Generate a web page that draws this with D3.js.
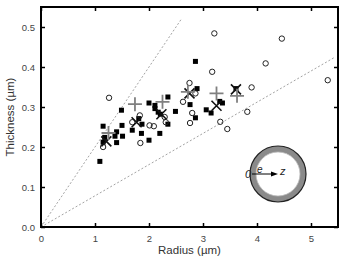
<!DOCTYPE html>
<html>
<head>
<meta charset="utf-8">
<script src="https://cdn.jsdelivr.net/npm/d3@7"></script>
<style>
  body { margin: 0; background: #fff; }
  svg { display: block; font-family: "Liberation Sans", Arial, sans-serif; }
</style>
</head>
<body>
<svg id="chart" width="340" height="257"></svg>
<script>
// data
const xTicks = [0, 1, 2, 3, 4, 5];
const yTicks = [0.0, 0.1, 0.2, 0.3, 0.4, 0.5];

const squareR = [1.09, 1.15, 1.15, 1.18, 1.37, 1.40, 1.40, 1.51, 1.50, 1.49, 1.69, 1.81, 1.87, 1.86, 2.00, 2.00, 2.11, 2.11, 2.17, 2.21, 2.20, 2.35, 2.35, 2.49, 2.86, 2.89, 2.76, 2.86, 3.06, 3.15, 3.31, 3.36, 3.61];
const squareT = [0.164, 0.252, 0.212, 0.224, 0.227, 0.238, 0.211, 0.227, 0.254, 0.292, 0.242, 0.271, 0.257, 0.234, 0.217, 0.310, 0.304, 0.296, 0.287, 0.282, 0.234, 0.325, 0.257, 0.289, 0.414, 0.346, 0.306, 0.273, 0.293, 0.285, 0.314, 0.310, 0.346];

const circleR = [1.26, 1.15, 1.69, 1.83, 2.01, 2.09, 1.84, 2.29, 2.31, 3.21, 3.17, 2.75, 2.86, 2.63, 2.80, 2.76, 3.32, 3.45, 3.82, 3.90, 4.16, 4.46, 5.31];
const circleT = [0.323, 0.200, 0.262, 0.279, 0.254, 0.252, 0.210, 0.275, 0.262, 0.484, 0.388, 0.360, 0.334, 0.313, 0.285, 0.260, 0.263, 0.245, 0.288, 0.349, 0.409, 0.471, 0.367];

const plusR = [1.25, 1.74, 2.25, 2.72, 3.25, 3.63];
const plusT = [0.235, 0.307, 0.313, 0.338, 0.334, 0.328];

const crossR = [1.21, 1.77, 2.23, 2.75, 3.25, 3.61];
const crossT = [0.214, 0.262, 0.282, 0.334, 0.303, 0.344];

// guide lines through the origin: [slope, end radius]
const guides = [[0.2, 2.6], [0.078, 5.45]];

const svg = d3.select("#chart");
const margin = { top: 7, right: 2, bottom: 30, left: 41 };
const width = 340, height = 257;

const x = d3.scaleLinear().domain([0, 5.5]).range([margin.left, width - margin.right]);
const y = d3.scaleLinear().domain([0, 0.55]).range([height - margin.bottom, margin.top]);

// guide lines
svg.append("g")
  .selectAll("line")
  .data(guides)
  .join("line")
  .attr("x1", x(0)).attr("y1", y(0))
  .attr("x2", d => x(d[1])).attr("y2", d => y(d[0] * d[1]))
  .attr("stroke", "#999")
  .attr("stroke-width", 0.9)
  .attr("stroke-dasharray", "2,2");

// axes, ticks inward on all sides
const styleAxis = g => {
  g.select(".domain").remove();
  g.selectAll(".tick line").attr("stroke", "#000").attr("stroke-width", 1.5);
  g.selectAll(".tick text").attr("fill", "#444").style("font-size", "9.5px");
};

svg.append("g")
  .attr("transform", `translate(0,${y(0)})`)
  .call(d3.axisBottom(x).tickValues(xTicks).tickSize(-4).tickPadding(8).tickFormat(d3.format("d")))
  .call(styleAxis);

svg.append("g")
  .attr("transform", `translate(${x(0)},0)`)
  .call(d3.axisLeft(y).tickValues(yTicks).tickSize(-4).tickPadding(6).tickFormat(d3.format(".1f")))
  .call(styleAxis);

svg.append("g")
  .attr("transform", `translate(0,${y(0.55)})`)
  .call(d3.axisTop(x).tickValues(xTicks).tickSize(-4).tickFormat(""))
  .call(styleAxis);

svg.append("g")
  .attr("transform", `translate(${x(5.5)},0)`)
  .call(d3.axisRight(y).tickValues(yTicks).tickSize(-4).tickFormat(""))
  .call(styleAxis);

svg.append("rect")
  .attr("x", x(0)).attr("y", y(0.55))
  .attr("width", x(5.5) - x(0)).attr("height", y(0) - y(0.55))
  .attr("fill", "none").attr("stroke", "#000").attr("stroke-width", 2);

// filled squares
svg.append("g")
  .selectAll("rect")
  .data(d3.zip(squareR, squareT))
  .join("rect")
  .attr("x", d => x(d[0]) - 2.5).attr("y", d => y(d[1]) - 2.5)
  .attr("width", 5).attr("height", 5)
  .attr("fill", "#000");

// open circles
svg.append("g")
  .selectAll("circle")
  .data(d3.zip(circleR, circleT))
  .join("circle")
  .attr("cx", d => x(d[0])).attr("cy", d => y(d[1]))
  .attr("r", 2.7)
  .attr("fill", "none").attr("stroke", "#222").attr("stroke-width", 1);

// crosses
svg.append("g")
  .selectAll("path")
  .data(d3.zip(crossR, crossT))
  .join("path")
  .attr("transform", d => `translate(${x(d[0])},${y(d[1])})`)
  .attr("d", "M-5,-5L5,5M-5,5L5,-5")
  .attr("stroke", "#111").attr("stroke-width", 1.6);

// plus signs
svg.append("g")
  .selectAll("path")
  .data(d3.zip(plusR, plusT))
  .join("path")
  .attr("transform", d => `translate(${x(d[0])},${y(d[1])})`)
  .attr("d", "M-7,0H7M0,-7V7")
  .attr("stroke", "#808080").attr("stroke-width", 1.8);

// inset sketch
const inset = svg.append("g").attr("transform", "translate(278,174)");
inset.append("circle").attr("r", 25).attr("fill", "none").attr("stroke", "#8a8a8a").attr("stroke-width", 6);
inset.append("circle").attr("r", 28).attr("fill", "none").attr("stroke", "#222").attr("stroke-width", 1.2);
inset.append("circle").attr("r", 22).attr("fill", "none").attr("stroke", "#bbb").attr("stroke-width", 0.8);
inset.append("line").attr("x1", -26).attr("y1", 0).attr("x2", -3).attr("y2", 0)
  .attr("stroke", "#000").attr("stroke-width", 1);
inset.append("path").attr("d", "M0,0L-7,-2.5L-7,2.5Z").attr("fill", "#000");
inset.append("text").attr("x", -33).attr("y", 4).text("0")
  .style("font-size", "11px").style("font-style", "italic").attr("fill", "#222");
inset.append("text").attr("x", -21).attr("y", -1).text("e")
  .style("font-size", "10px").style("font-style", "italic").attr("fill", "#222");
inset.append("text").attr("x", 2).attr("y", 1).text("z")
  .style("font-size", "11px").style("font-style", "italic").attr("fill", "#222");

// axis titles
svg.append("text")
  .attr("x", (x(0) + x(5.5)) / 2).attr("y", 254)
  .attr("text-anchor", "middle")
  .attr("fill", "#333")
  .style("font-size", "11.5px")
  .text("Radius (µm)");

svg.append("text")
  .attr("transform", `translate(14,${(y(0) + y(0.55)) / 2}) rotate(-90)`)
  .attr("text-anchor", "middle")
  .attr("fill", "#333")
  .style("font-size", "11.5px")
  .text("Thickness (µm)");
</script>
</body>
</html>
